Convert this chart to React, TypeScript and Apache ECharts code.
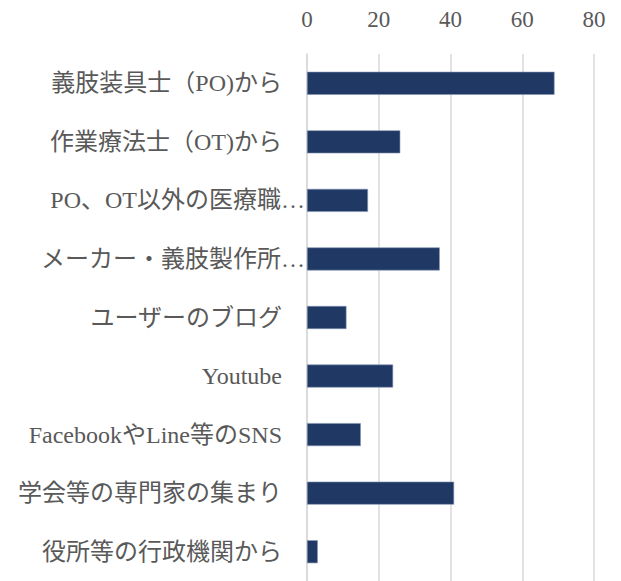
import React, { useEffect, useRef } from "react";
import * as echarts from "echarts";

const categories = [
  "義肢装具士（PO)から",
  "作業療法士（OT)から",
  "PO、OT以外の医療職…",
  "メーカー・義肢製作所…",
  "ユーザーのブログ",
  "Youtube",
  "FacebookやLine等のSNS",
  "学会等の専門家の集まり",
  "役所等の行政機関から",
];
const values = [69, 26, 17, 37, 11, 24, 15, 41, 3];
const xTicks = [0, 20, 40, 60, 80];

const FONT = "'Liberation Serif', 'Noto Sans CJK JP', serif";

export default function App() {
  const ref = useRef<HTMLDivElement>(null);
  useEffect(() => {
    if (!ref.current) return;
    const chart = echarts.init(ref.current, null, { renderer: "svg" });
    chart.setOption({
      animation: false,
      backgroundColor: "#ffffff",
      grid: { left: 307, right: 27, top: 54, height: 527 },
      xAxis: {
        type: "value",
        position: "top",
        min: xTicks[0],
        max: xTicks[xTicks.length - 1],
        interval: 20,
        axisLine: { show: false },
        axisTick: { show: false },
        splitLine: { show: true, lineStyle: { color: "#d9d9d9", width: 1.5 } },
        axisLabel: {
          margin: 23,
          fontFamily: FONT,
          fontSize: 23,
          color: "#595959",
        },
      },
      yAxis: {
        type: "category",
        data: categories,
        inverse: true,
        axisTick: { show: false },
        axisLine: { show: true, lineStyle: { color: "#d9d9d9", width: 1.5 } },
        axisLabel: {
          margin: 2,
          fontFamily: FONT,
          fontSize: 24,
          color: "#595959",
          formatter: (v: string) => (v.endsWith("…") ? v : v + "{s|}"),
          rich: { s: { width: 23 } },
        },
      },
      series: [
        {
          type: "bar",
          data: values,
          barWidth: 23,
          itemStyle: { color: "#203864", borderColor: "#8194b4", borderWidth: 0.6 },
        },
      ],
    });
    return () => chart.dispose();
  }, []);
  return (
    <div
      ref={ref}
      style={{ position: "fixed", left: 0, top: 0, width: 621, height: 581 }}
    />
  );
}
